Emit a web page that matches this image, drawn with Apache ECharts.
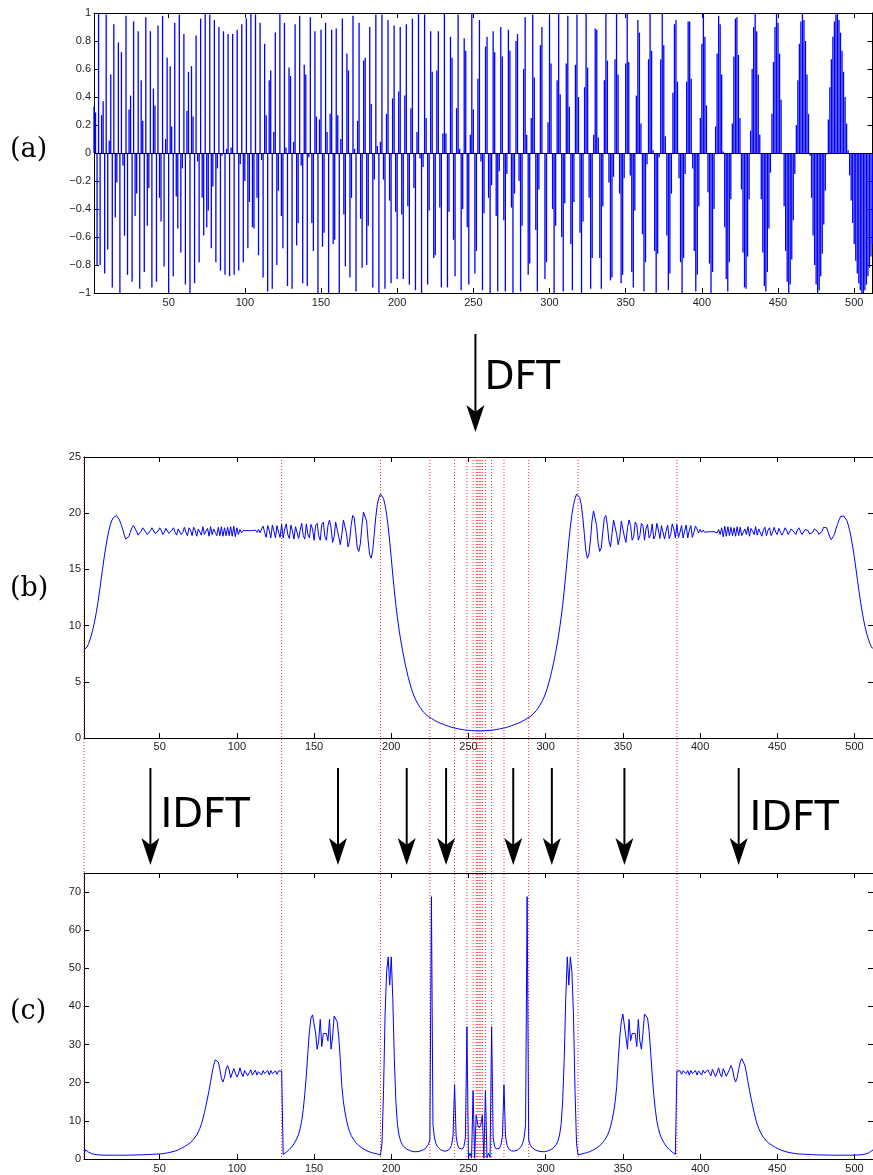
<!DOCTYPE html>
<html><head><meta charset="utf-8">
<script src="https://cdn.jsdelivr.net/npm/echarts@6/dist/echarts.min.js"></script>
<style>html,body{margin:0;padding:0;background:#fff}#c{width:873px;height:1175px}</style>
</head><body><div id="c"></div>
<script>
// ---------- data ----------
const xTickValues = [50,100,150,200,250,300,350,400,450,500];
const aYTicks = [-1,-0.8,-0.6,-0.4,-0.2,0,0.2,0.4,0.6,0.8,1];
const bYTicks = [0,5,10,15,20,25];
const cYTicks = [0,10,20,30,40,50,60,70];

// (a) signal samples n = 1..512
const signal = [0.33,0.29,-0.80,1.00,-0.80,0.27,0.37,-0.86,0.99,-0.69,
0.09,0.56,-0.96,0.92,-0.46,-0.21,0.79,-1.00,0.72,-0.09,
-0.59,0.98,-0.87,0.31,0.41,-0.92,0.94,-0.45,-0.29,0.87,
-0.97,0.52,0.23,-0.85,0.97,-0.52,-0.25,0.87,-0.96,0.46,
0.34,-0.92,0.91,-0.32,-0.49,0.98,-0.81,0.10,0.68,-1.00,
0.62,0.19,-0.88,0.93,-0.31,-0.54,0.99,-0.71,-0.11,0.85,
-0.94,0.30,0.58,-1.00,0.62,0.26,-0.93,0.84,-0.06,-0.78,
0.96,-0.32,-0.59,1.00,-0.53,-0.41,0.99,-0.68,-0.24,0.95,
-0.78,-0.11,0.90,-0.84,-0.02,0.87,-0.87,0.03,0.85,-0.88,
0.04,0.85,-0.87,0.00,0.88,-0.84,-0.08,0.92,-0.78,-0.20,
0.96,-0.68,-0.35,1.00,-0.53,-0.54,0.99,-0.32,-0.73,0.93,
-0.05,-0.89,0.78,0.27,-0.99,0.52,0.59,-0.97,0.15,0.86,
-0.80,-0.27,1.00,-0.45,-0.68,0.93,0.04,-0.95,0.61,0.55,
-0.97,0.08,0.92,-0.66,-0.50,0.98,-0.09,-0.93,0.63,0.56,
-0.95,-0.03,0.97,-0.50,-0.70,0.87,0.26,-1.00,0.24,0.88,
-0.67,-0.57,0.93,0.15,-1.00,0.28,0.88,-0.65,-0.62,0.89,
0.27,-1.00,0.10,0.96,-0.44,-0.81,0.71,0.59,-0.89,-0.32,
0.98,0.03,-0.99,0.23,0.93,-0.47,-0.82,0.66,0.68,-0.80,
-0.52,0.90,0.35,-0.96,-0.19,0.99,0.05,-1.00,0.08,0.99,
-0.19,-0.97,0.28,0.95,-0.34,-0.93,0.39,0.91,-0.42,-0.90,
0.44,0.90,-0.44,-0.90,0.41,0.92,-0.38,-0.94,0.32,0.96,
-0.25,-0.98,0.15,1.00,-0.04,-1.00,-0.10,0.99,0.25,-0.94,
-0.41,0.87,0.58,-0.75,-0.73,0.59,0.87,-0.39,-0.96,0.14,
1.00,0.14,-0.96,-0.42,0.83,0.68,-0.62,-0.88,0.32,0.99,
0.03,-0.98,-0.40,0.82,0.73,-0.53,-0.94,0.13,1.00,0.31,
-0.86,-0.70,0.53,0.95,-0.06,-0.98,-0.43,0.76,0.83,-0.32,
-1.00,-0.23,0.87,0.72,-0.45,-0.99,-0.13,0.90,0.69,-0.48,
-0.99,-0.15,0.88,0.73,-0.39,-1.00,-0.29,0.80,0.85,-0.20,
-0.99,-0.52,0.60,0.97,0.13,-0.87,-0.79,0.25,0.99,0.54,
-0.55,-0.99,-0.26,0.77,0.90,0.00,-0.90,-0.78,0.22,0.97,
0.64,-0.40,-1.00,-0.52,0.52,1.00,0.42,-0.60,-0.99,-0.36,
0.64,0.98,0.33,-0.65,-0.98,-0.35,0.63,0.99,0.40,-0.57,
-1.00,-0.49,0.47,1.00,0.61,-0.32,-0.97,-0.75,0.13,0.89,
0.88,0.11,-0.75,-0.97,-0.38,0.52,1.00,0.66,-0.21,-0.91,
-0.89,-0.17,0.67,1.00,0.56,-0.29,-0.93,-0.87,-0.18,0.64,
1.00,0.65,-0.16,-0.85,-0.96,-0.41,0.41,0.95,0.86,0.21,
-0.58,-0.99,-0.78,-0.08,0.67,1.00,0.73,0.02,-0.70,-1.00,
-0.72,-0.03,0.67,1.00,0.77,0.12,-0.59,-0.98,-0.86,-0.29,
0.43,0.92,0.95,0.51,-0.18,-0.78,-1.00,-0.75,-0.15,0.51,
0.94,0.94,0.53,-0.11,-0.70,-0.99,-0.87,-0.38,0.25,0.78,
1.00,0.83,0.34,-0.28,-0.79,-1.00,-0.85,-0.40,0.19,0.71,
0.98,0.92,0.56,0.01,-0.53,-0.90,-0.99,-0.78,-0.33,0.21,
0.69,0.96,0.97,0.70,0.25,-0.26,-0.71,-0.96,-0.97,-0.74,
-0.33,0.16,0.60,0.90,1.00,0.87,0.56,0.13,-0.33,-0.71,
-0.95,-0.99,-0.85,-0.54,-0.14,0.28,0.65,0.90,1.00,0.93,
0.71,0.38,0.00,-0.38,-0.70,-0.92,-1.00,-0.94,-0.76,-0.48,
-0.15,0.20,0.52,0.78,0.94,1.00,0.95,0.80,0.56,0.28,
-0.02,-0.32,-0.59,-0.80,-0.94,-1.00,-0.98,-0.88,-0.72,-0.51,
-0.27,-0.01,0.24,0.47,0.67,0.83,0.94,0.99,1.00,0.95,
0.86,0.73,0.58,0.40,0.21,0.02,-0.16,-0.34,-0.50,-0.65,
-0.77,-0.86,-0.93,-0.98,-1.00,-1.00,-0.98,-0.94,-0.88,-0.82,
-0.74,-0.65];

// (b) DFT magnitude, bins 1..512
const spectrum = [7.85,7.95,8.1,8.4,8.8,9.25,9.8,10.45,11.2,12.05,
13.0,14.0,15.0,16.0,16.9,17.7,18.4,18.95,19.35,19.6,
19.75,19.8,19.7,19.4,19.0,18.6,18.1,17.7,17.65,17.9,
18.3,18.7,18.9,18.75,18.4,18.05,18.1,18.4,18.7,18.6,
18.3,18.1,18.15,18.45,18.7,18.55,18.2,18.1,18.4,18.7,
18.5,18.1,18.3,18.65,18.6,18.2,18.1,18.5,18.7,18.3,
18.05,18.6,18.65,18.1,18.3,18.75,18.3,18.0,18.7,18.5,
18.0,18.75,18.5,17.95,18.6,18.6,18.05,18.8,18.1,18.4,
18.65,17.95,18.8,18.1,18.6,18.3,18.0,18.75,18.0,18.8,
17.95,18.7,18.0,18.75,18.0,18.8,17.95,18.85,17.9,18.7,
18.1,18.55,18.25,18.45,18.35,18.45,18.35,18.45,18.35,18.45,
18.3,18.5,18.3,18.55,18.25,18.6,18.85,18.3,17.85,18.9,
18.45,17.8,18.95,18.4,17.8,18.9,18.3,17.85,19.0,17.8,
18.6,19.05,18.1,17.75,18.95,18.4,17.7,18.8,18.9,17.75,
18.5,19.1,18.0,17.7,19.05,18.1,17.8,19.0,18.6,17.6,
18.9,19.1,18.0,17.6,19.0,19.2,17.9,17.6,18.9,19.4,
18.7,17.4,17.9,19.2,19.3,17.9,17.2,18.1,19.4,19.4,
18.2,17.0,17.5,18.9,19.8,19.6,18.3,16.9,16.6,17.3,
18.9,20.1,20.2,19.3,17.6,16.3,16.0,16.7,18.2,19.7,
20.8,21.4,21.7,21.7,21.3,20.7,19.9,18.8,17.5,16.0,
14.5,13.1,11.8,10.7,9.7,8.8,8.0,7.3,6.6,6.0,
5.4,4.9,4.4,4.0,3.65,3.35,3.1,2.85,2.65,2.45,
2.3,2.15,2.0,1.9,1.85,1.75,1.65,1.57,1.5,1.43,
1.36,1.3,1.25,1.2,1.15,1.1,1.05,1.0,0.96,0.92,
0.89,0.86,0.83,0.8,0.77,0.75,0.73,0.71,0.69,0.68,
0.67,0.66,0.65,0.64,0.64,0.63,0.63,
0.63,0.64,0.64,0.65,0.66,0.67,
0.68,0.69,0.71,0.73,0.75,0.77,0.8,0.83,0.86,0.89,
0.92,0.96,1.0,1.05,1.1,1.15,1.2,1.25,1.3,1.36,
1.43,1.5,1.57,1.65,1.75,1.85,1.9,2.0,2.15,2.3,
2.45,2.65,2.85,3.1,3.35,3.65,4.0,4.4,4.9,5.4,
6.0,6.6,7.3,8.0,8.8,9.7,10.7,11.8,13.1,14.5,
16.0,17.5,18.8,19.9,20.7,21.3,21.7,21.7,21.4,20.8,
19.7,18.2,16.7,16.0,16.3,17.6,19.3,20.2,20.1,18.9,
17.3,16.6,16.9,18.3,19.6,19.8,18.9,17.5,17.0,18.2,
19.4,19.4,18.1,17.2,17.9,19.3,19.2,17.9,17.4,18.7,
19.4,18.9,17.6,17.9,19.2,19.0,17.6,18.0,19.1,18.9,
17.6,18.6,19.0,17.8,18.1,19.05,17.7,18.0,19.1,18.5,
17.75,18.9,18.8,17.7,18.4,18.95,17.75,18.1,19.05,18.6,
17.8,19.0,17.85,18.3,18.9,17.8,18.4,18.95,17.8,18.45,
18.9,17.85,18.3,18.85,18.6,18.25,18.55,18.3,18.5,18.3,
18.45,18.35,18.45,18.35,18.45,18.35,18.45,18.25,18.55,18.1,
18.7,17.9,18.85,17.95,18.8,18.0,18.75,18.0,18.7,17.95,
18.8,18.0,18.75,18.0,18.3,18.6,18.1,18.8,17.95,18.65,
18.4,18.1,18.8,18.05,18.6,18.6,17.95,18.5,18.75,18.0,
18.5,18.7,18.0,18.3,18.75,18.3,18.1,18.65,18.6,18.05,
18.3,18.7,18.5,18.1,18.2,18.6,18.65,18.3,18.1,18.5,
18.7,18.4,18.1,18.2,18.55,18.7,18.45,18.15,18.1,18.3,
18.6,18.7,18.4,18.1,18.05,18.4,18.75,18.9,18.7,18.3,
17.9,17.65,17.7,18.1,18.6,19.0,19.4,19.7,19.8,19.75,
19.6,19.35,18.95,18.4,17.7,16.9,16.0,15.0,14.0,13.0,
12.05,11.2,10.45,9.8,9.25,8.8,8.4,8.1,7.95];

// (c) band-wise IDFT magnitudes, bins 1..512
const bandIdft = [1.3,2.4,2.1,1.8,1.55,1.4,1.3,1.2,1.15,1.1,
1.07,1.05,1.03,1.02,1.0,1.0,1.0,1.0,1.0,1.0,
1.0,1.0,1.0,1.0,1.0,1.0,1.0,1.0,1.0,1.0,
1.02,1.03,1.04,1.05,1.06,1.07,1.08,1.09,1.1,1.12,
1.14,1.16,1.18,1.2,1.22,1.24,1.26,1.28,1.3,1.33,
1.37,1.41,1.46,1.52,1.6,1.68,1.77,1.87,1.98,2.1,
2.25,2.4,2.6,2.8,3.0,3.25,3.5,3.75,4.0,4.3,
4.7,5.2,5.7,6.3,7.1,8.0,9.1,10.5,12.2,14.0,
16.0,18.0,20.3,22.6,24.6,26.0,26.3,25.4,23.5,21.2,
20.2,21.4,23.6,24.5,23.4,21.3,21.7,23.7,23.7,21.5,
22.3,23.9,22.6,21.6,23.2,23.5,21.8,22.6,23.4,22.0,
22.5,23.3,22.0,22.9,23.1,22.0,23.2,22.4,22.4,23.2,
22.0,23.2,22.4,22.6,23.1,22.2,23.1,22.8,23.1,1.2,
1.5,1.8,2.1,2.5,2.9,3.4,4.0,4.7,5.5,6.5,
8.0,10.0,13.0,17.0,22.0,28.0,33.5,37.0,37.8,38.0,
33.0,28.8,31.0,36.6,29.5,32.9,32.9,32.9,31.0,36.6,
28.8,32.0,37.5,38.0,36.0,32.0,26.0,19.0,15.0,12.3,
10.2,8.5,7.2,6.2,5.5,4.9,4.3,3.9,3.5,3.2,
2.9,2.6,2.4,2.2,2.0,1.85,1.7,1.6,1.5,1.4,
1.3,1.2,1.05,4.0,18.0,38.0,49.0,53.0,45.6,53.0,
42.0,26.0,15.0,9.0,6.3,4.8,3.9,3.3,2.9,2.6,
2.4,2.2,2.05,1.95,1.9,1.9,1.95,2.0,2.1,2.25,
2.45,2.7,3.1,3.8,5.0,68.8,9.0,5.5,4.0,3.2,
2.7,2.4,2.2,2.1,2.05,2.1,2.3,2.7,3.6,6.0,
19.4,6.0,3.6,2.8,2.5,2.6,3.2,5.5,34.7,0.4,
1.5,0.3,17.9,0.2,11.5,9.0,8.2,
9.0,11.5,0.2,17.9,0.3,1.5,
0.4,34.7,5.5,3.2,2.6,2.5,2.8,3.6,6.0,19.4,
6.0,3.6,2.7,2.3,2.1,2.05,2.1,2.2,2.4,2.7,
3.2,4.0,5.5,9.0,68.8,5.0,3.8,3.1,2.7,2.45,
2.25,2.1,2.0,1.95,1.9,1.9,1.95,2.05,2.2,2.4,
2.6,2.9,3.3,3.9,4.8,6.3,9.0,15.0,26.0,42.0,
53.0,45.6,53.0,49.0,38.0,18.0,4.0,1.05,1.2,1.3,
1.4,1.5,1.6,1.7,1.85,2.0,2.2,2.4,2.6,2.9,
3.2,3.5,3.9,4.3,4.9,5.5,6.2,7.2,8.5,10.2,
12.3,15.0,19.0,26.0,32.0,36.0,38.0,37.5,32.0,28.8,
36.6,31.0,32.9,32.9,32.9,29.5,36.6,31.0,28.8,33.0,
38.0,37.8,37.0,33.5,28.0,22.0,17.0,13.0,10.0,8.0,
6.5,5.5,4.7,4.0,3.4,2.9,2.5,2.1,1.8,1.5,
1.2,23.1,22.8,23.1,22.2,23.1,22.6,22.4,23.2,22.0,
23.2,22.4,22.4,23.2,22.0,23.1,22.9,22.0,23.3,22.5,
22.0,23.4,22.6,21.8,23.5,23.2,21.6,22.6,23.9,22.3,
21.5,23.7,23.7,21.7,21.3,23.4,24.5,23.6,21.4,20.2,
21.2,23.5,25.4,26.3,26.0,24.6,22.6,20.3,18.0,16.0,
14.0,12.2,10.5,9.1,8.0,7.1,6.3,5.7,5.2,4.7,
4.3,4.0,3.75,3.5,3.25,3.0,2.8,2.6,2.4,2.25,
2.1,1.98,1.87,1.77,1.68,1.6,1.52,1.46,1.41,1.37,
1.33,1.3,1.28,1.26,1.24,1.22,1.2,1.18,1.16,1.14,
1.12,1.1,1.09,1.08,1.07,1.06,1.05,1.04,1.03,1.02,
1.0,1.0,1.0,1.0,1.0,1.0,1.0,1.0,1.0,1.0,
1.0,1.0,1.0,1.0,1.0,1.0,1.02,1.03,1.05,1.07,
1.1,1.15,1.2,1.3,1.4,1.55,1.8,2.1,2.4];

// band boundaries (red dotted) and arrow positions, in bin units
const bandEdges = [1,129,193,225,241,249,253,255,256,257,258,259,261,265,273,289,321,385];
const dftArrowX = [254.5];
const idftArrowX = [44,165.5,210,235.5,279,304,351,425];
const panelLabels = ['(a)','(b)','(c)'];

// ---------- chart ----------
const chart = echarts.init(document.getElementById('c'), null, {renderer:'canvas'});
const TICK_FONT = 'Liberation Sans, Arial, sans-serif';
const grids = [
  {left:94, top:13, width:778.5, height:280},
  {left:84, top:457, width:789.5, height:281},
  {left:84, top:873, width:789.5, height:286},
  {left:84, top:0, width:789.5, height:1175}
];
function xAx(g, pos, labels, margin){
  return {type:'value', gridIndex:g, min:1, max:512, position:pos,
    axisLine:{show:true, onZero:false, lineStyle:{color:'#000', width:1}},
    axisTick:{show:true, inside:true, length:5, lineStyle:{color:'#000', width:1}, customValues:xTickValues},
    axisLabel:{show:labels, customValues:xTickValues, fontSize:11, fontFamily:TICK_FONT, color:'#222', margin:margin},
    splitLine:{show:false}};
}
function yAx(g, pos, labels, min, max, ticks, fmt){
  return {type:'value', gridIndex:g, min:min, max:max, position:pos,
    axisLine:{show:true, onZero:false, lineStyle:{color:'#000', width:1}},
    axisTick:{show:true, inside:true, length:5, lineStyle:{color:'#000', width:1}, customValues:ticks},
    axisLabel:{show:labels, customValues:ticks, fontSize:11, fontFamily:TICK_FONT, color:'#222', margin:3, formatter:fmt},
    splitLine:{show:false}};
}
const minusFmt = v => (v < 0 ? '\u2212' + String(Math.abs(v)) : String(v));

const xAxis = [
  xAx(0,'bottom',true,4), xAx(0,'top',false,4),
  xAx(1,'bottom',true,3), xAx(1,'top',false,3),
  xAx(2,'bottom',true,4), xAx(2,'top',false,4),
  {type:'value', gridIndex:3, min:1, max:512, show:false}
];
const yAxis = [
  yAx(0,'left',true,-1,1,aYTicks,minusFmt), yAx(0,'right',false,-1,1,aYTicks,minusFmt),
  yAx(1,'left',true,0,25,bYTicks,minusFmt), yAx(1,'right',false,0,25,bYTicks,minusFmt),
  yAx(2,'left',true,0,75,cYTicks,minusFmt), yAx(2,'right',false,0,75,cYTicks,minusFmt),
  {type:'value', gridIndex:3, min:0, max:1175, inverse:true, show:false}
];

const bins = signal.map((v,i)=>i+1);

const series = [
  {type:'bar', xAxisIndex:0, yAxisIndex:0, barWidth:1.3, z:3,
   itemStyle:{color:'#0000ff'},
   data: signal.map((v,i)=>[bins[i], v]),
   markLine:{silent:true, symbol:['none','none'], label:{show:false},
     lineStyle:{color:'#000', width:1, type:'solid'}, data:[{yAxis:0}]}},
  {type:'line', xAxisIndex:2, yAxisIndex:2, z:4, showSymbol:false, symbol:'none',
   lineStyle:{color:'#0000ff', width:1}, data: spectrum.map((v,i)=>[bins[i], v])},
  {type:'line', xAxisIndex:4, yAxisIndex:4, z:4, showSymbol:false, symbol:'none',
   lineStyle:{color:'#0000ff', width:1}, data: bandIdft.map((v,i)=>[bins[i], v])},
  // red dotted band boundaries through (b), the gap and (c)
  {type:'custom', xAxisIndex:6, yAxisIndex:6, z:2, silent:true,
   data: bandEdges.map(x=>[x, 457, 1159]),
   renderItem:(params, api)=>{
     const p0 = api.coord([api.value(0), api.value(1)]);
     const p1 = api.coord([api.value(0), api.value(2)]);
     return {type:'line', shape:{x1:p0[0], y1:p0[1], x2:p1[0], y2:p1[1]},
       style:{stroke:'#ff0000', lineWidth:1, lineDash:[1,2], opacity:0.85}};
   }},
  // arrows
  {type:'custom', xAxisIndex:6, yAxisIndex:6, z:5, silent:true,
   data: dftArrowX.map(x=>[x, 334, 432]).concat(idftArrowX.map(x=>[x, 768, 865])),
   renderItem:(params, api)=>{
     const p0 = api.coord([api.value(0), api.value(1)]);
     const p1 = api.coord([api.value(0), api.value(2)]);
     const L = 27, W = 9, N = 7;
     const x = p1[0], y = p1[1];
     return {type:'group', children:[
       {type:'line', shape:{x1:p0[0], y1:p0[1], x2:x, y2:y-L+N+1}, style:{stroke:'#000', lineWidth:2}},
       {type:'polygon', shape:{points:[[x,y],[x-W,y-L],[x,y-L+N],[x+W,y-L]]}, style:{fill:'#000'}}
     ]};
   }}
];

function txt(s, x, y, font){
  return {type:'text', x:x, y:y, silent:true,
    style:{text:s, font:font, fill:'#000', textAlign:'left', align:'left',
           textVerticalAlign:'middle', verticalAlign:'middle'}};
}
const serif = '27px "DejaVu Serif", serif';
const sans = '"DejaVu Sans", sans-serif';
const graphic = [
  txt(panelLabels[0], 10, 150, serif),
  txt(panelLabels[1], 10, 589, serif),
  txt(panelLabels[2], 10, 1012, serif),
  txt('DFT', 484.5, 379, '39px ' + sans),
  txt('IDFT', 160.5, 817, '40px ' + sans),
  txt('IDFT', 749.5, 820, '40px ' + sans)
];

chart.setOption({
  animation:false,
  backgroundColor:'#ffffff',
  grid: grids,
  xAxis: xAxis,
  yAxis: yAxis,
  series: series,
  graphic: graphic
});
</script>
</body></html>
